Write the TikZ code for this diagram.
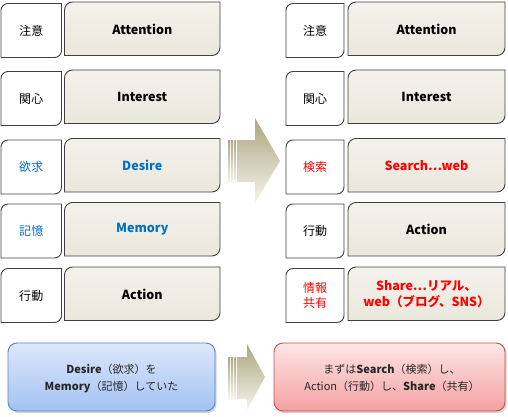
\documentclass[tikz,border=0pt]{standalone}
\usepackage{fontspec}
\setmainfont{Noto Sans CJK JP}
\usetikzlibrary{shadows}
\definecolor{edge}{HTML}{404040}
\definecolor{beigeT}{HTML}{F4F2EC}
\definecolor{beigeB}{HTML}{EAE7DC}
\definecolor{txtblue}{HTML}{0070C0}
\definecolor{txtred}{HTML}{FF0000}
\definecolor{arrT}{HTML}{ADA57F}
\definecolor{arrB}{HTML}{F6F4EC}
\definecolor{blueT}{HTML}{DDE8FB}
\definecolor{blueB}{HTML}{A3C2F2}
\definecolor{blueE}{HTML}{5A86C8}
\definecolor{redT}{HTML}{FFE6E6}
\definecolor{redB}{HTML}{F3A0A0}
\definecolor{redE}{HTML}{C85050}
\tikzset{
  smallbox/.style={draw=edge, line width=0.9pt, fill=white},
  bigbox/.style={draw=edge, line width=0.9pt, top color=beigeT, bottom color=beigeB},
  labeltext/.style={font=\fontsize{12}{15.5}\selectfont, align=center},
  maintext/.style={font=\fontsize{12.5}{16}\selectfont\bfseries, align=center},
  arrowfill/.style={top color=arrT, bottom color=arrB, draw=none},
  sumtext/.style={font=\fontsize{11}{17}\selectfont, align=center, text=black!85},
}
% box with rounded top-left and bottom-right corners: x0 y0 x1 y1 radius style
\newcommand\cornbox[6]{%
  \path[#6] (#1,#2+#5) arc[start angle=180,end angle=270,radius=#5] -- (#3,#2)
    -- (#3,#4-#5) arc[start angle=0,end angle=90,radius=#5] -- (#1,#4) -- cycle;}
\newcommand\rowpair[9]{% #1 xs0 #2 xs1 #3 xb0 #4 xb1 #5 ytop #6 name #7 color #8 label #9 main
  \cornbox{#1}{#5+1.5}{#2}{#5+55.5}{7}{smallbox}
  \cornbox{#3}{#5}{#4}{#5+53.5}{8}{bigbox}
  \node[labeltext, text=#7] (#6s) at ({(#1+#2)/2},{#5+28.5}) {#8};
  \node[maintext, text=#7] (#6b) at ({(#3+#4)/2},{#5+27}) {#9};}
\begin{document}
\begin{tikzpicture}[x=1pt,y=-1pt]
\useasboundingbox (0,0) rectangle (508,417);
% left column
\rowpair{1}{61.5}{64.5}{220}{2}{L1}{black}{注意}{Attention}
\rowpair{1}{61.5}{64.5}{220}{70}{L2}{black}{関心}{Interest}
\rowpair{1}{61.5}{64.5}{220}{138.5}{L3}{txtblue}{欲求}{Desire}
\rowpair{1}{61.5}{64.5}{220}{202.5}{L4}{txtblue}{記憶}{Memory}
\rowpair{1}{61.5}{64.5}{220}{267}{L5}{black}{行動}{Action}
% right column
\rowpair{286}{344}{348}{505}{2}{R1}{black}{注意}{Attention}
\rowpair{286}{344}{348}{505}{70}{R2}{black}{関心}{Interest}
\rowpair{286}{344}{348}{505}{138.5}{R3}{txtred}{検索}{Search⋯web}
\rowpair{286}{344}{348}{505}{202.5}{R4}{black}{行動}{Action}
\rowpair{286}{344}{348}{505}{267}{R5}{txtred}{情報\\共有}{Share⋯リアル、\\web（ブログ、SNS）}
% big middle arrow
\path[arrowfill] (228,140) rectangle (230,182);
\path[arrowfill] (231.2,140) rectangle (233.2,182);
\path[arrowfill] (234.4,140) rectangle (235.8,182);
\path[arrowfill] (237,140) -- (255,140) -- (255,118) -- (280,161) -- (255,203) -- (255,182) -- (237,182) -- cycle;
% bottom arrow
\path[arrowfill] (228,357) rectangle (230,399);
\path[arrowfill] (231.2,357) rectangle (233.2,399);
\path[arrowfill] (234.4,357) rectangle (235.6,399);
\path[arrowfill] (236.8,357) -- (247,357) -- (247,344) -- (265,377) -- (247,410) -- (247,399) -- (236.8,399) -- cycle;
% bottom boxes
\path[draw=blueE, line width=0.9pt, top color=blueT, bottom color=blueB, rounded corners=9pt,
  drop shadow={shadow xshift=1.5pt, shadow yshift=-2pt, opacity=0.35}] (8,343) rectangle (215,411);
\node[sumtext] (sumL) at (111.5,378) {\textbf{Desire}（欲求）を\\\textbf{Memory}（記憶）していた};
\path[draw=redE, line width=0.9pt, top color=redT, bottom color=redB, rounded corners=9pt,
  drop shadow={shadow xshift=1.5pt, shadow yshift=-2pt, opacity=0.35}] (274,343) rectangle (505,411);
\node[sumtext] (sumR) at (392,378) {まずは\textbf{Search}（検索）し、\\Action（行動）し、\textbf{Share}（共有）};
\end{tikzpicture}
\end{document}
